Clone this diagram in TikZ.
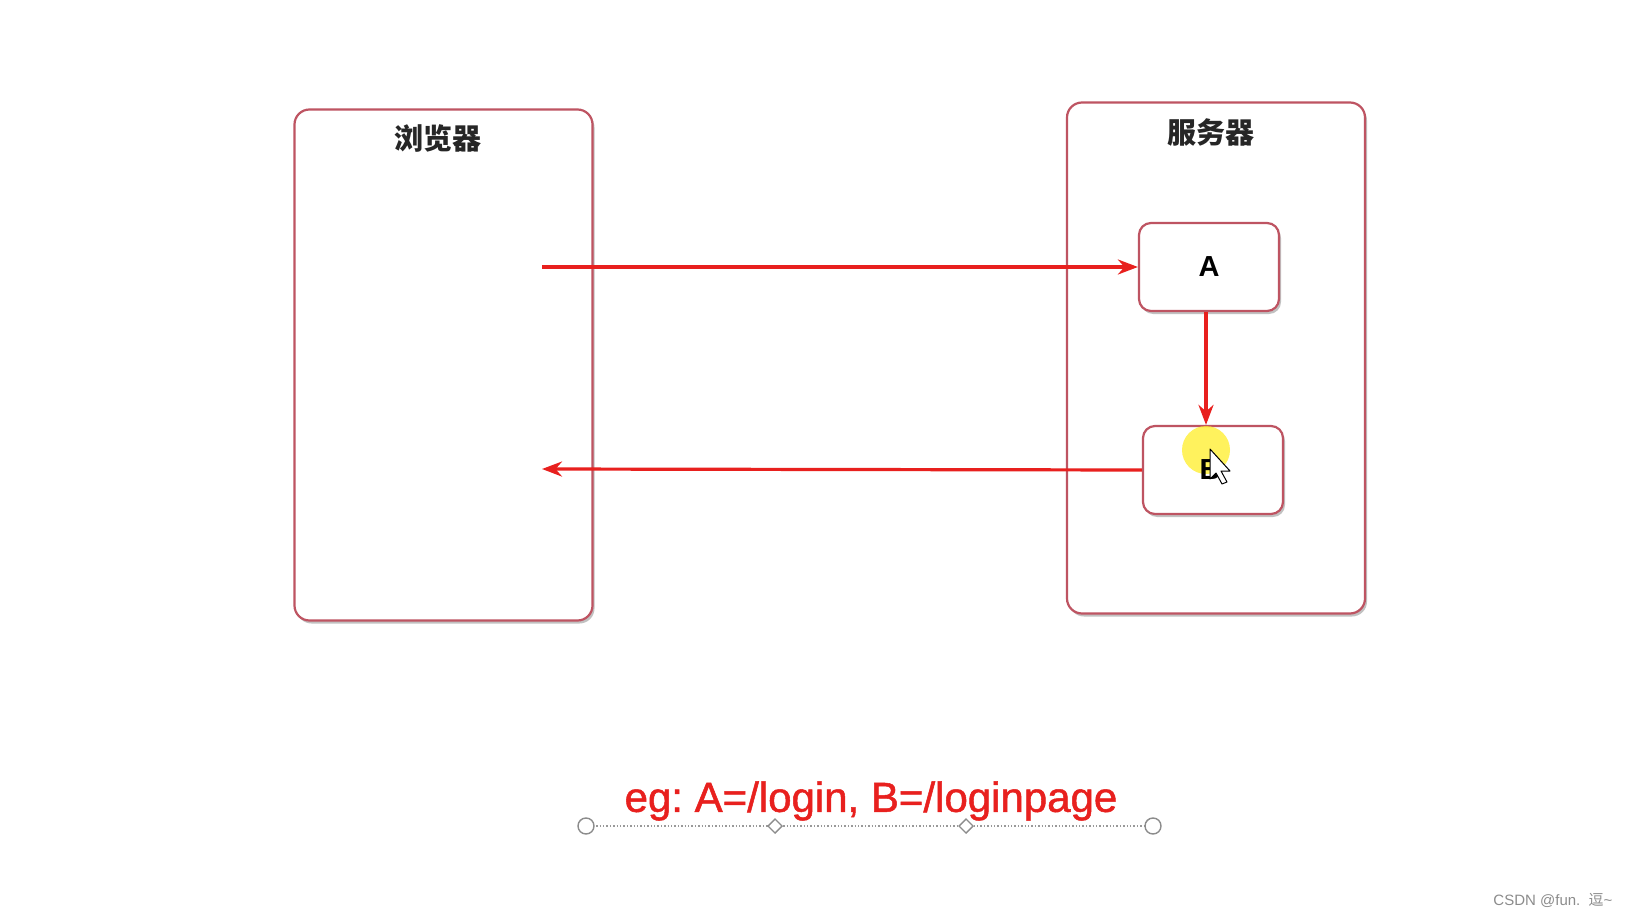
\documentclass[tikz,border=0pt]{standalone}
\usepackage{fontspec}
\setmainfont{Liberation Sans}
\newfontfamily\cjk{Noto Sans CJK SC}
\newfontfamily\egfont[FakeBold=1.2]{Liberation Sans}
\usetikzlibrary{arrows.meta, shadows}

\definecolor{boxline}{RGB}{190,84,98}
\definecolor{flowred}{RGB}{232,32,30}
\definecolor{halo}{RGB}{255,238,40}

\tikzset{
	bigbox/.style={draw=boxline, line width=2.2pt, fill=white, rounded corners=15pt,
		drop shadow={shadow xshift=2pt, shadow yshift=-3pt, fill=black!40, opacity=0.6}},
	smallbox/.style={bigbox, rounded corners=12pt, minimum width=140pt, minimum height=88pt,
		font=\fontsize{29}{34}\selectfont\bfseries},
	boxtitle/.style={font=\cjk\fontsize{29}{34}\selectfont\bfseries, text=black!85},
	flow/.style={draw=flowred, line width=3.2pt, -{Stealth[length=20pt, width=15pt]}},
	handle/.style={draw=black!45, line width=1.4pt, fill=white},
}

\begin{document}
\frenchspacing
\begin{tikzpicture}[x=1pt, y=-1pt]
			\def\bw{298};
			\def\bh{511};

			\useasboundingbox [fill=white] (0,0) rectangle (1630,917);

			\begin{scope}
				\node [bigbox, minimum width=\bw, minimum height=\bh] (browser) at (443.5,365) {};
				\node [bigbox, minimum width=\bw, minimum height=\bh] (server) at (1216,358) {};

				\node [boxtitle] (browsertitle) at (438,138) {浏览器};
				\node [boxtitle] (servertitle) at (1211,132) {服务器};
			\end{scope}

			\begin{scope}
				\node [smallbox] (A) at (1209,267) {A};
				\node [smallbox] (B) at (1213,470) {};
			\end{scope}

			\coordinate (request) at (542,267);
			\coordinate (response) at (542,469);

			\begin{scope}
				\draw [flow] (request) -- (A.west);
				\draw [flow] (A.south -| 1206,0) -- (B.north -| 1206,0);
				\draw [flow] (B.west) -- (response);
			\end{scope}

			\begin{scope}
				\fill [halo, opacity=0.75] (1206,450) circle (24pt);
				\node [font=\fontsize{29}{34}\selectfont\bfseries] (Blabel) at (1210,470) {B};
				\draw [black, fill=white, line width=1pt, line join=round]
					(1210,449) -- ++(0,30) -- ++(6,-6) -- ++(6,11) -- ++(5,-2)
					-- ++(-6,-11) -- ++(9,0) -- cycle;
			\end{scope}

			\node [text=flowred, font=\egfont\fontsize{42}{48}\selectfont] (example) at (871,801) {eg: A=/login, B=/loginpage};

			\begin{scope}
				\draw [black!40, line width=1.4pt, dotted] (586,826) -- (1153,826);
				\draw [handle] (586,826) circle (8pt);
				\draw [handle] (1153,826) circle (8pt);
				\draw [handle] (775,819) -- (782,826) -- (775,833) -- (768,826) -- cycle;
				\draw [handle] (966,819) -- (973,826) -- (966,833) -- (959,826) -- cycle;
			\end{scope}

			\node [anchor=east, text=black!45, font=\fontsize{15}{18}\selectfont] (mark) at (1616,900) {CSDN @fun.~~{\cjk 逗}\textasciitilde};
		\end{tikzpicture}
\end{document}
